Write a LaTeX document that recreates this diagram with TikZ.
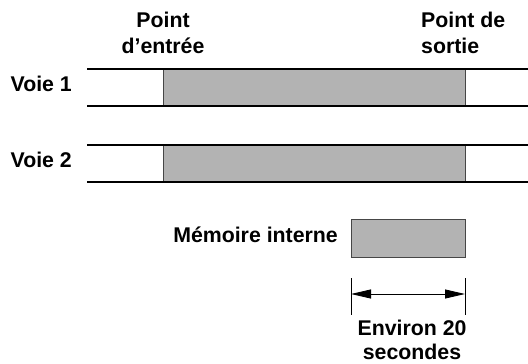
\documentclass[tikz,border=0pt]{standalone}
\usepackage{fontspec}
\setmainfont{Liberation Sans}
\usetikzlibrary{arrows.meta}
\definecolor{fillgray}{RGB}{179,179,179}
\definecolor{edgegray}{RGB}{70,70,70}
\tikzset{
  lbl/.style={font=\bfseries\fontsize{21.3}{26}\selectfont, inner sep=0pt},
  band/.style={draw=edgegray, line width=0.9pt, fill=fillgray, inner sep=0pt},
  rail/.style={line width=2pt, black},
  tick/.style={line width=0.9pt, black},
  dim/.style={line width=0.9pt, black, {Triangle[length=20pt,width=9pt]}-{Triangle[length=20pt,width=9pt]}}
}
\begin{document}
\begin{tikzpicture}[x=1pt,y=-1pt]
\useasboundingbox (0,0) rectangle (528,364);
% labels
\node[lbl, anchor=base, align=center] (pin) at (163,53) {Point\\d’entrée};
\node[lbl, anchor=base west, align=left] (pout) at (421,53) {Point de\\sortie};
\node[lbl, anchor=base east] (v1) at (72,91) {Voie 1};
\node[lbl, anchor=base east] (v2) at (72,167) {Voie 2};
\node[lbl, anchor=base east] (mem) at (338,242) {Mémoire interne};
% tracks
\node[band, minimum width=302pt, minimum height=37.5pt] (g1) at (314,87.25) {};
\node[band, minimum width=302pt, minimum height=37.5pt] (g2) at (314,163.25) {};
\coordinate (t1l) at (87,68.5);  \coordinate (t1r) at (528,68.5);
\coordinate (b1l) at (87,106);   \coordinate (b1r) at (528,106);
\coordinate (t2l) at (87,144.5); \coordinate (t2r) at (528,144.5);
\coordinate (b2l) at (87,182);   \coordinate (b2r) at (528,182);
\draw[rail] (t1l) -- (t1r);
\draw[rail] (b1l) -- (b1r);
\draw[rail] (t2l) -- (t2r);
\draw[rail] (b2l) -- (b2r);
% memory box
\node[band, minimum width=114pt, minimum height=38pt] (memb) at (408,238) {};
% dimension
\coordinate (lt) at (351,278); \coordinate (lb) at (351,315);
\coordinate (rt) at (465,278); \coordinate (rb) at (465,315);
\coordinate (al) at (351,294); \coordinate (ar) at (465,294);
\draw[tick] (lt) -- (lb);
\draw[tick] (rt) -- (rb);
\draw[dim] (al) -- (ar);
\node[lbl, font=\bfseries\fontsize{21.3}{24}\selectfont, anchor=base, align=center] (env) at (412,359) {Environ 20\\secondes};
\end{tikzpicture}
\end{document}
